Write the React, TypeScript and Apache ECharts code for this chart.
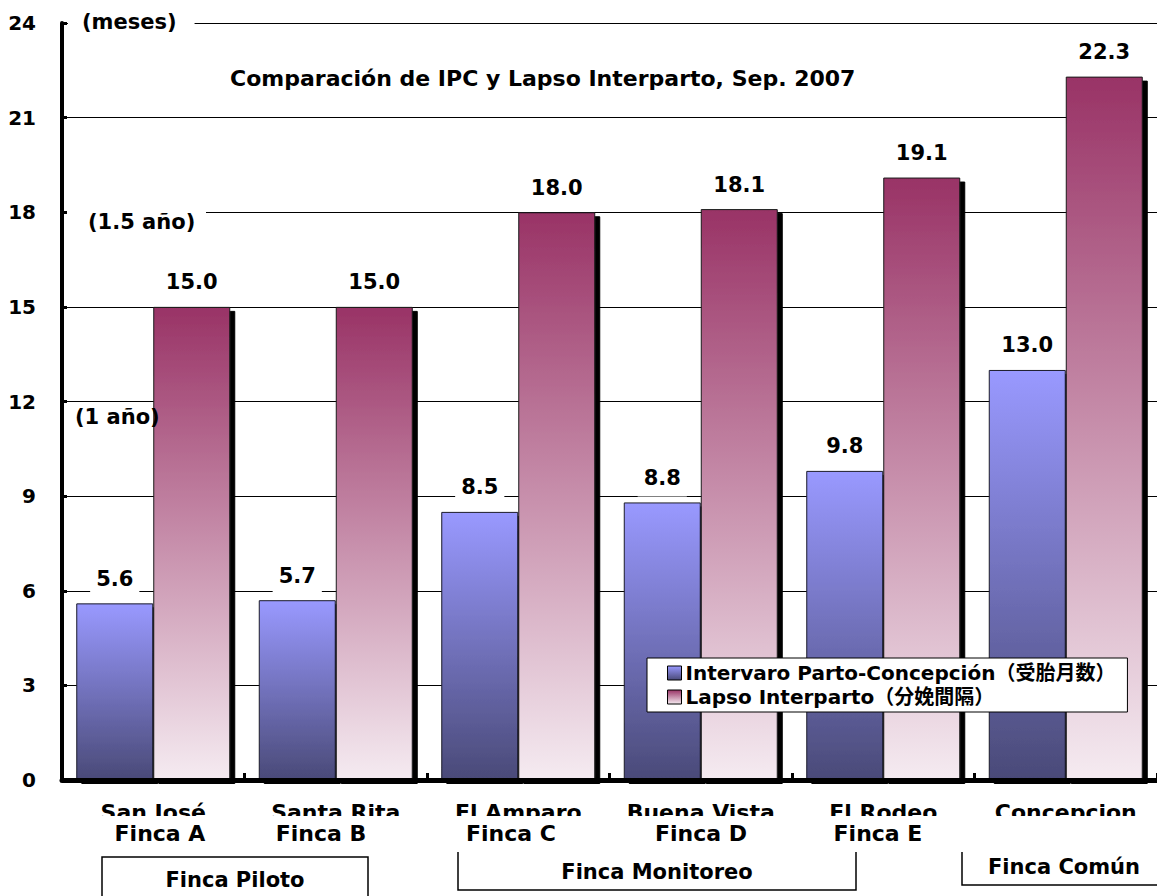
import React, { useEffect, useRef } from "react";
import * as echarts from "echarts";

const categories = ["San José", "Santa Rita", "El Amparo", "Buena Vista", "El Rodeo", "Concepcion"];
const ipcValues = [5.6, 5.7, 8.5, 8.8, 9.8, 13.0];
const lapsoValues = [15.0, 15.0, 18.0, 18.1, 19.1, 22.3];
const seriesNames = ["Intervaro Parto-Concepción（受胎月数）", "Lapso Interparto（分娩間隔）"];
const fincaLabels = ["Finca A", "Finca B", "Finca C", "Finca D", "Finca E"];
const groupLabels = ["Finca Piloto", "Finca Monitoreo", "Finca Común"];
const titleText = "Comparación de IPC y Lapso Interparto, Sep. 2007";
const unitText = "(meses)";
const yearNotes = ["(1.5 año)", "(1 año)"];

const FF = '"DejaVu Sans", "Noto Sans CJK JP", sans-serif';

function txt(text: string, x: number, y: number, size: number, align = "center", extra: any = {}) {
  return {
    type: "text",
    z: 60,
    style: {
      text,
      x,
      y,
      fill: "#000",
      fontSize: size,
      fontWeight: "bold",
      fontFamily: FF,
      align,
      verticalAlign: "middle",
      ...extra,
    },
  };
}

export default function App() {
  const ref = useRef<HTMLDivElement>(null);
  useEffect(() => {
    if (!ref.current) return;
    const chart = echarts.init(ref.current, undefined, { renderer: "svg" });
    const fincaX = [160, 321, 511, 701, 878];
    const labelStyle = {
      show: true,
      position: "top",
      distance: 6,
      formatter: (p: any) => Number(p.value).toFixed(1),
      color: "#000",
      fontSize: 21,
      fontWeight: "bold",
      fontFamily: FF,
      backgroundColor: "#fff",
      padding: [3, 6, 8, 6],
    };
    const shadow = { shadowColor: "#000", shadowBlur: 0, shadowOffsetX: 5, shadowOffsetY: 4 };
    const option: any = {
      animation: false,
      backgroundColor: "#fff",
      grid: { left: 62, top: 23, width: 1104, height: 757, containLabel: false },
      legend: {
        left: 647,
        top: 658,
        orient: "vertical",
        data: seriesNames,
        backgroundColor: "#fff",
        borderColor: "#000",
        borderWidth: 1,
        padding: [5, 12, 5, 20],
        itemGap: 4,
        itemWidth: 14,
        itemHeight: 14,
        icon: "rect",
        itemStyle: { borderColor: "#000", borderWidth: 1, shadowColor: "rgba(0,0,0,0)", shadowOffsetX: 0, shadowOffsetY: 0 },
        textStyle: { fontSize: 20, fontWeight: "bold", fontFamily: FF, color: "#000", padding: [0, 0, 0, -1] },
        z: 20,
      },
      xAxis: {
        type: "category",
        data: categories,
        z: 10,
        axisLine: { show: true, lineStyle: { color: "#000", width: 5 } },
        axisTick: { show: true, inside: true, length: 7, lineStyle: { color: "#000", width: 3 } },
        axisLabel: { margin: 25, lineHeight: 14, color: "#000", fontSize: 22, fontWeight: "bold", fontFamily: FF, interval: 0 },
        splitLine: { show: false },
      },
      yAxis: {
        type: "value",
        min: 0,
        max: 24,
        interval: 3,
        axisLine: { show: true, lineStyle: { color: "#000", width: 4 } },
        axisTick: { show: true, inside: true, length: 5, lineStyle: { color: "#000", width: 3 } },
        axisLabel: { margin: 26, color: "#000", fontSize: 20, fontWeight: "bold", fontFamily: FF },
        splitLine: { show: true, lineStyle: { color: "#000", width: 1 } },
      },
      series: [
        {
          name: seriesNames[0],
          type: "bar",
          data: ipcValues,
          barWidth: 77,
          barGap: "0%",
          itemStyle: {
            color: new echarts.graphic.LinearGradient(0, 0, 0, 1, [
              { offset: 0, color: "#9999ff" },
              { offset: 1, color: "#4a4a78" },
            ]),
            borderColor: "#1a1a2a",
            borderWidth: 1,
            ...shadow,
          },
          label: labelStyle,
        },
        {
          name: seriesNames[1],
          type: "bar",
          data: lapsoValues,
          barWidth: 77,
          barGap: "0%",
          itemStyle: {
            color: new echarts.graphic.LinearGradient(0, 0, 0, 1, [
              { offset: 0, color: "#993366" },
              { offset: 1, color: "#f5ebf1" },
            ]),
            borderColor: "#1a1a1a",
            borderWidth: 1,
            ...shadow,
          },
          label: labelStyle,
        },
      ],
      graphic: [
        { type: "rect", z: 50, shape: { x: 62, y: 816, width: 1100, height: 34 }, style: { fill: "#fff" } },
        ...fincaLabels.map((t, i) => txt(t, fincaX[i], 833, 22)),
        { type: "rect", z: 55, shape: { x: 102, y: 857, width: 266, height: 60 }, style: { fill: "none", stroke: "#000", lineWidth: 1.5 } },
        { type: "polyline", z: 55, shape: { points: [[458, 852], [458, 890], [856, 890], [856, 852]] }, style: { fill: "none", stroke: "#000", lineWidth: 1.5 } },
        { type: "polyline", z: 55, shape: { points: [[962, 852], [962, 885], [1170, 885]] }, style: { fill: "none", stroke: "#000", lineWidth: 1.5 } },
        txt(groupLabels[0], 235, 880, 21),
        txt(groupLabels[1], 657, 872, 21),
        txt(groupLabels[2], 1064, 867, 21),
        txt(titleText, 230, 78, 22, "left"),
        txt(unitText, 68, 22, 21, "left", { backgroundColor: "#fff", padding: [3, 18, 3, 14] }),
        { type: "rect", z: 50, shape: { x: 67, y: 206, width: 139, height: 28 }, style: { fill: "#fff" } },
        txt(yearNotes[0], 88, 222, 21, "left"),
        txt(yearNotes[1], 75, 417, 21, "left"),
      ],
    };
    chart.setOption(option);
    return () => chart.dispose();
  }, []);
  return <div ref={ref} style={{ position: "fixed", left: 0, top: 0, width: 1157, height: 896 }} />;
}
